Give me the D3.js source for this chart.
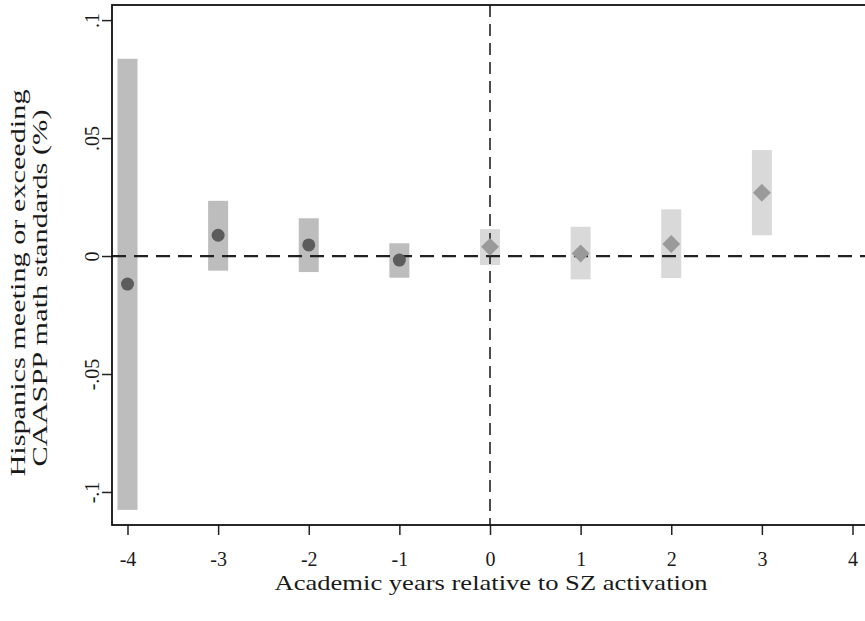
<!DOCTYPE html>
<html>
<head>
<meta charset="utf-8">
<script src="https://cdn.jsdelivr.net/npm/d3@7"></script>
<style>
  body { margin: 0; background: #fff; }
  text { font-family: "Liberation Serif", "DejaVu Serif", serif; fill: #1a1a1a; }
</style>
</head>
<body>
<div id="plot"></div>
<script>
const years = [-4, -3, -2, -1, 0, 1, 2, 3];
const estimates = [-0.0119, 0.0088, 0.0047, -0.0017, 0.0039, 0.0011, 0.0051, 0.0268];
const ciLow = [-0.1076, -0.0062, -0.0068, -0.0092, -0.0038, -0.0099, -0.0093, 0.0088];
const ciHigh = [0.0836, 0.0234, 0.0160, 0.0054, 0.0114, 0.0124, 0.0198, 0.0449];
const xTicks = [-4, -3, -2, -1, 0, 1, 2, 3, 4];
const yTicks = [-0.1, -0.05, 0, 0.05, 0.1];
const yTickLabels = ["-.1", "-.05", "0", ".05", ".1"];

const W = 865, H = 621;
const margin = {top: 5, right: -3, bottom: 96, left: 112};
const width = W - margin.left - margin.right;
const height = H - margin.top - margin.bottom;

const data = years.map((yr, i) => ({yr, est: estimates[i], lo: ciLow[i], hi: ciHigh[i]}));

const svg = d3.select("#plot").append("svg")
  .attr("width", W)
  .attr("height", H);

const g = svg.append("g")
  .attr("transform", `translate(${margin.left},${margin.top})`);

const x = d3.scaleLinear().domain([-4.171, 4.171]).range([0, width]);
const y = d3.scaleLinear().domain([-0.114, 0.1064]).range([height, 0]);

// confidence bars
g.selectAll(".ci")
  .data(data)
  .enter().append("rect")
  .attr("class", "ci")
  .attr("x", d => x(d.yr) - 10)
  .attr("width", 20)
  .attr("y", d => y(d.hi))
  .attr("height", d => y(d.lo) - y(d.hi))
  .attr("fill", d => d.yr < 0 ? "#bdbdbd" : "#d9d9d9");

// reference lines
g.append("line")
  .attr("x1", 0).attr("x2", width)
  .attr("y1", y(0)).attr("y2", y(0))
  .attr("stroke", "#222").attr("stroke-width", 2.2)
  .attr("stroke-dasharray", "14,8");

g.append("line")
  .attr("x1", x(0)).attr("x2", x(0))
  .attr("y1", 0).attr("y2", height)
  .attr("stroke", "#222").attr("stroke-width", 1.6)
  .attr("stroke-dasharray", "12,7");

// point estimates
g.selectAll(".pre")
  .data(data.filter(d => d.yr < 0))
  .enter().append("circle")
  .attr("class", "pre")
  .attr("cx", d => x(d.yr))
  .attr("cy", d => y(d.est))
  .attr("r", 6.5)
  .attr("fill", "#5c5c5c");

g.selectAll(".post")
  .data(data.filter(d => d.yr >= 0))
  .enter().append("path")
  .attr("class", "post")
  .attr("d", d3.symbol().type(d3.symbolSquare).size(160))
  .attr("transform", d => `translate(${x(d.yr)},${y(d.est)}) rotate(45)`)
  .attr("fill", "#9a9a9a");

// axes
const xAxis = d3.axisBottom(x).tickValues(xTicks).tickSize(10).tickSizeOuter(0).tickPadding(17).tickFormat(d => String(d));
const xAxisG = g.append("g")
  .attr("transform", `translate(0,${height})`)
  .call(xAxis);
xAxisG.select(".domain").remove();
xAxisG.selectAll("line").attr("stroke", "#222").attr("stroke-width", 1.5);
xAxisG.selectAll("text").style("font-size", "20px").style("font-family", "Liberation Serif").attr("fill", "#1a1a1a");

const yAxis = d3.axisLeft(y).tickValues(yTicks).tickSize(10).tickSizeOuter(0).tickFormat((d, i) => yTickLabels[i]);
const yAxisG = g.append("g").call(yAxis);
yAxisG.select(".domain").remove();
yAxisG.selectAll("line").attr("stroke", "#222").attr("stroke-width", 1.5);
yAxisG.selectAll("text")
  .attr("x", null).attr("dy", null)
  .attr("text-anchor", "middle")
  .attr("transform", "translate(-13,0) rotate(-90)")
  .style("font-size", "20px").style("font-family", "Liberation Serif").attr("fill", "#1a1a1a");

// frame
g.append("rect")
  .attr("x", 0).attr("y", 0)
  .attr("width", width).attr("height", height)
  .attr("fill", "none").attr("stroke", "#111").attr("stroke-width", 1.8);

// titles
svg.append("text")
  .attr("x", 491).attr("y", 590)
  .attr("text-anchor", "middle")
  .attr("textLength", 433).attr("lengthAdjust", "spacingAndGlyphs")
  .style("font-size", "21px")
  .text("Academic years relative to SZ activation");

const yt = svg.append("text")
  .attr("transform", "translate(0,283) rotate(-90)")
  .attr("text-anchor", "middle")
  .style("font-size", "21px");
yt.append("tspan").attr("x", 0).attr("y", 25)
  .attr("textLength", 387).attr("lengthAdjust", "spacingAndGlyphs")
  .text("Hispanics meeting or exceeding");
yt.append("tspan").attr("x", -5).attr("y", 47)
  .attr("textLength", 357).attr("lengthAdjust", "spacingAndGlyphs")
  .text("CAASPP math standards (%)");
</script>
</body>
</html>
